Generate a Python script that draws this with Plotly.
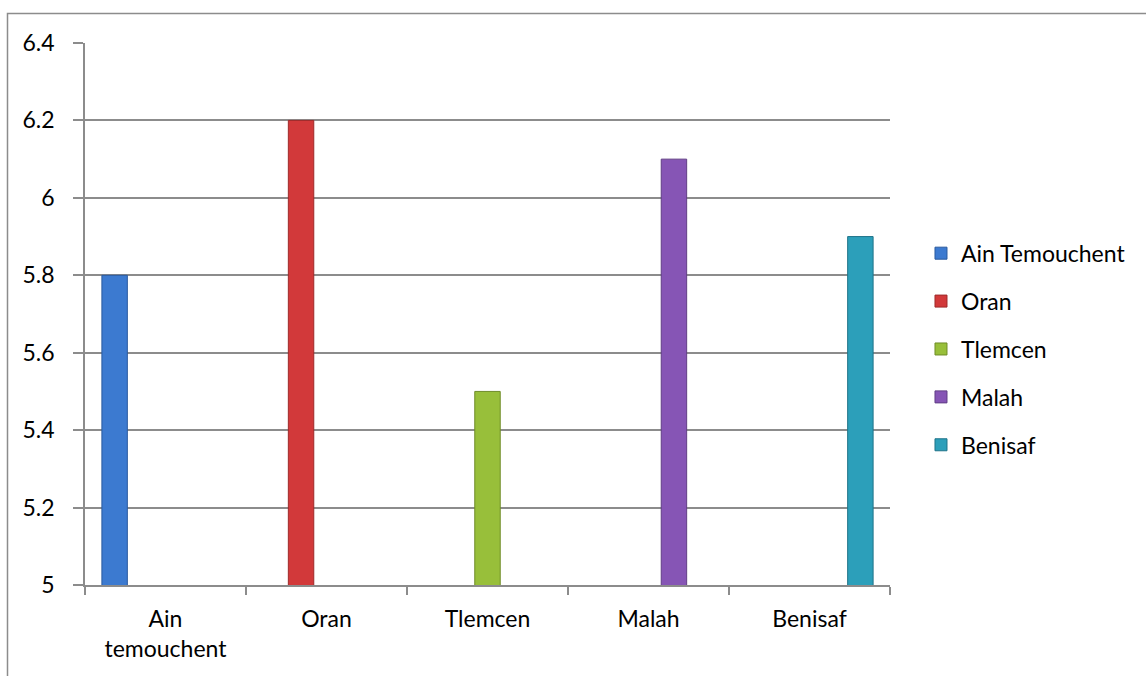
import plotly.graph_objects as go

categories = ["Ain<br>temouchent", "Oran", "Tlemcen", "Malah", "Benisaf"]
series_names = ["Ain Temouchent", "Oran", "Tlemcen", "Malah", "Benisaf"]
series_values = [5.8, 6.2, 5.5, 6.1, 5.9]
colors = ["#3C7AD0", "#D2393A", "#98BF3A", "#8655B5", "#2C9FBA"]
edge_colors = ["#2A5A9E", "#9E2A2A", "#6F8C28", "#603E85", "#1E7389"]
y_ticks = [5, 5.2, 5.4, 5.6, 5.8, 6, 6.2, 6.4]
y_ticklabels = ["5", "5.2", "5.4", "5.6", "5.8", "6", "6.2", "6.4"]

FONT = "Lato"
GRAY = "#8C8C8C"

fig = go.Figure()
for i, name in enumerate(series_names):
    y = [None] * len(categories)
    y[i] = series_values[i]
    fig.add_trace(go.Bar(
        x=categories, y=y, name=name, legendgroup=name,
        marker=dict(color=colors[i], line=dict(color=edge_colors[i], width=1)),
    ))

fig.update_layout(
    width=1146, height=676,
    margin=dict(l=85, r=256, t=43, b=91, autoexpand=False),
    paper_bgcolor="white", plot_bgcolor="white",
    barmode="group", bargap=0.21, bargroupgap=0,
    font=dict(family=FONT, size=23, color="#000000"),
    showlegend=True,
    legend=dict(x=1.0385, xanchor="left", y=0.435, yanchor="middle",
                font=dict(family=FONT, size=23, color="#000000"),
                tracegroupgap=15, itemwidth=30, bgcolor="rgba(0,0,0,0)"),
    xaxis=dict(showline=True, linecolor=GRAY, linewidth=1.5,
               ticks="outside", tickson="boundaries", ticklen=8,
               tickcolor=GRAY, tickwidth=1.5, showgrid=False,
               tickfont=dict(family=FONT, size=23), ticklabelstandoff=13,
               automargin=False),
    yaxis=dict(range=[5, 6.4], tickvals=y_ticks, ticktext=y_ticklabels,
               showline=True, linecolor=GRAY, linewidth=1.5,
               ticks="outside", ticklen=10, tickcolor=GRAY, tickwidth=1.5,
               showgrid=True, gridcolor=GRAY, gridwidth=1.5,
               zeroline=False, tickfont=dict(family=FONT, size=23),
               ticklabelstandoff=14, automargin=False),
    shapes=[dict(type="rect", xref="paper", yref="paper",
                 x0=(7.5 - 85) / 805, x1=(1160 - 85) / 805,
                 y0=(585 - 700) / 542, y1=(585 - 13.5) / 542,
                 line=dict(color=GRAY, width=1.5), fillcolor="rgba(0,0,0,0)",
                 layer="below")],
)

fig.write_html("out.html")
